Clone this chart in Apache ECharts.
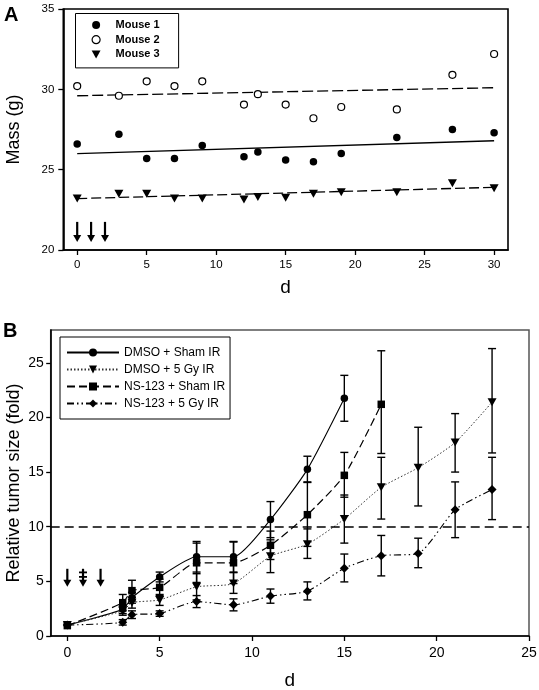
<!DOCTYPE html>
<html>
<head>
<meta charset="utf-8">
<script src="https://cdn.jsdelivr.net/npm/echarts@6/dist/echarts.min.js"></script>
<style>html,body{margin:0;padding:0;background:#fff}#c{width:539px;height:690px}</style>
</head>
<body>
<div id="c"></div>
<script>
// ---------- Panel A data ----------
const daysA = [0, 3, 5, 7, 9, 12, 13, 15, 17, 19, 23, 27, 30];
const mouse1 = [26.6, 27.2, 25.7, 25.7, 26.5, 25.8, 26.1, 25.6, 25.5, 26.0, 27.0, 27.5, 27.3];
const mouse2 = [30.2, 29.6, 30.5, 30.2, 30.5, 29.05, 29.7, 29.05, 28.2, 28.9, 28.75, 30.9, 32.2];
const mouse3 = [23.2, 23.5, 23.5, 23.2, 23.2, 23.15, 23.3, 23.25, 23.5, 23.6, 23.6, 24.15, 23.85];
const fitDaysA = [0, 30];
const fit1 = [26.0, 26.8];
const fit2 = [29.6, 30.1];
const fit3 = [23.2, 23.9];
const arrowDaysA = [0, 1, 2];
const arrowTopA = 21.75;
const arrowBottomA = 20.5;
const ticksAx = [0, 5, 10, 15, 20, 25, 30];
const ticksAy = [20, 25, 30, 35];
const namesA = ['Mouse 1', 'Mouse 2', 'Mouse 3'];

// ---------- Panel B data ----------
const namesB = ['DMSO + Sham IR', 'DMSO + 5 Gy IR', 'NS-123 + Sham IR', 'NS-123 + 5 Gy IR'];
const daysB1 = [0, 3, 3.5, 5, 7, 9, 11, 13, 15];
const dmsoSham = [1.0, 2.45, 3.5, 5.4, 7.25, 7.25, 10.65, 15.25, 21.75];
const dmsoShamLo = [1.0, 2.05, 3.0, 4.95, 5.85, 5.85, 9.0, 14.05, 19.65];
const dmsoShamHi = [1.0, 2.85, 4.0, 5.85, 8.65, 8.65, 12.3, 16.45, 23.85];

const daysB2 = [0, 3, 3.5, 5, 7, 9, 11, 13, 15, 17, 19, 21, 23];
const dmso5Gy = [1.0, 2.3, 3.05, 3.3, 4.5, 4.8, 7.3, 8.4, 10.7, 13.6, 15.4, 17.7, 21.4];
const dmso5GyLo = [1.0, 1.9, 2.55, 2.8, 3.3, 3.9, 5.8, 7.1, 8.5, 10.7, 11.9, 15.0, 16.75];
const dmso5GyHi = [1.0, 2.7, 3.55, 3.8, 5.7, 5.8, 8.8, 9.8, 12.9, 16.35, 19.1, 20.35, 26.3];

const daysB3 = [0, 3, 3.5, 5, 7, 9, 11, 13, 15, 17];
const nsSham = [0.95, 3.05, 4.15, 4.45, 6.7, 6.7, 8.3, 11.1, 14.7, 21.2];
const nsShamLo = [0.95, 2.3, 3.2, 3.7, 4.9, 4.8, 7.0, 8.2, 12.7, 16.7];
const nsShamHi = [0.95, 3.8, 5.1, 5.2, 8.5, 8.6, 9.6, 14.1, 16.8, 26.1];

const daysB4 = [0, 3, 3.5, 5, 7, 9, 11, 13, 15, 17, 19, 21, 23];
const ns5Gy = [1.0, 1.25, 1.95, 2.05, 3.15, 2.85, 3.65, 4.1, 6.2, 7.35, 7.55, 11.55, 13.4];
const ns5GyLo = [1.0, 1.0, 1.6, 1.8, 2.6, 2.3, 3.0, 3.3, 4.95, 5.5, 6.25, 9.0, 10.65];
const ns5GyHi = [1.0, 1.5, 2.3, 2.3, 3.7, 3.4, 4.3, 4.95, 7.5, 9.2, 8.95, 14.1, 16.35];

const thresholdB = 10;
const arrowDaysB = [0, 0.85, 1.8];
const arrowBarsB = [0, 2, 0];
const arrowTopB = 6.15;
const arrowBottomB = 4.5;
const ticksBx = [0, 5, 10, 15, 20, 25];
const ticksBy = [0, 5, 10, 15, 20, 25];

// ---------- helpers ----------
const FONT = 'Liberation Sans, Arial, Helvetica, sans-serif';
const zip = (xs, ys) => xs.map((x, i) => [x, ys[i]]);
const zip3 = (xs, lo, hi) => xs.map((x, i) => [x, lo[i], hi[i]]);

function errRender(params, api) {
  const x = api.value(0), lo = api.value(1), hi = api.value(2);
  if (hi - lo < 0.05) return null;
  const p1 = api.coord([x, lo]);
  const p2 = api.coord([x, hi]);
  const w = 4;
  const st = { stroke: '#000', lineWidth: 1.4 };
  return {
    type: 'group',
    children: [
      { type: 'line', shape: { x1: p1[0], y1: p1[1], x2: p2[0], y2: p2[1] }, style: st },
      { type: 'line', shape: { x1: p1[0] - w, y1: p1[1], x2: p1[0] + w, y2: p1[1] }, style: st },
      { type: 'line', shape: { x1: p2[0] - w, y1: p2[1], x2: p2[0] + w, y2: p2[1] }, style: st }
    ]
  };
}

function arrowRender(params, api) {
  const x = api.value(0), top = api.value(1), bot = api.value(2), bars = api.value(3);
  const pt = api.coord([x, top]);
  const pb = api.coord([x, bot]);
  const hw = 4, hh = 7;
  const children = [
    { type: 'line', shape: { x1: pt[0], y1: pt[1], x2: pb[0], y2: pb[1] - hh + 1 }, style: { stroke: '#000', lineWidth: 2.2 } },
    { type: 'polygon', shape: { points: [[pb[0] - hw, pb[1] - hh], [pb[0] + hw, pb[1] - hh], [pb[0], pb[1]]] }, style: { fill: '#000' } }
  ];
  const len = pb[1] - pt[1];
  for (let b = 0; b < bars; b++) {
    const yy = pt[1] + len * (0.2 + 0.25 * b);
    children.push({ type: 'line', shape: { x1: pt[0] - 4, y1: yy, x2: pt[0] + 4, y2: yy }, style: { stroke: '#000', lineWidth: 1.8 } });
  }
  return { type: 'group', children };
}

const chart = echarts.init(document.getElementById('c'), null, { renderer: 'canvas' });

const axisCommon = {
  type: 'value',
  splitLine: { show: false },
  nameMoveOverlap: false,
  axisLine: { show: true, onZero: false, lineStyle: { color: '#000', width: 1.6 } },
  axisTick: { show: true, inside: false, length: 5, lineStyle: { color: '#000', width: 1.3 } }
};

const option = {
  animation: false,
  backgroundColor: '#fff',
  textStyle: { fontFamily: FONT, color: '#000' },
  graphic: [
    { type: 'text', left: 4, top: 5, style: { text: 'A', font: 'bold 20px ' + FONT, fill: '#000' } },
    { type: 'text', left: 3, top: 321, style: { text: 'B', font: 'bold 20px ' + FONT, fill: '#000' } }
  ],
  grid: [
    { left: 63.3, top: 9, width: 444.7, height: 241, show: true, borderColor: '#000', borderWidth: 1.6, containLabel: false, outerBoundsMode: 'none' },
    { left: 50.7, top: 330, width: 478.3, height: 306, show: true, borderColor: '#555', borderWidth: 1.5, containLabel: false, outerBoundsMode: 'none' }
  ],
  legend: [
    {
      data: [
        { name: namesA[0], icon: 'circle' },
        { name: namesA[1], icon: 'circle' },
        { name: namesA[2], icon: 'path://M0,0 L10,0 L5,9 Z' }
      ],
      left: 75.5, top: 13.5, orient: 'vertical',
      padding: [6, 19, 8, 16], itemGap: 3.7, itemWidth: 9, itemHeight: 8,
      borderColor: '#000', borderWidth: 1, backgroundColor: '#fff',
      textStyle: { fontFamily: FONT, fontSize: 11, fontWeight: 'bold', color: '#000', padding: [0, 0, 0, 10] },
      itemStyle: { borderWidth: 1.2 }
    },
    {
      data: namesB, left: 60, top: 337, orient: 'vertical',
      padding: [9.5, 5, 9.5, 6], itemGap: 5, itemWidth: 52, itemHeight: 10,
      borderColor: '#000', borderWidth: 1, backgroundColor: '#fff',
      textStyle: { fontFamily: FONT, fontSize: 12, color: '#000' }
    }
  ],
  xAxis: [
    Object.assign({}, axisCommon, {
      gridIndex: 0, min: -1, max: 31,
      name: 'd', nameLocation: 'middle', nameGap: 28,
      nameTextStyle: { fontSize: 19, fontFamily: FONT, color: '#000' },
      axisTick: Object.assign({}, axisCommon.axisTick, { customValues: ticksAx }),
      axisLabel: { customValues: ticksAx, fontSize: 11.5, margin: 9, color: '#000', fontFamily: FONT }
    }),
    Object.assign({}, axisCommon, {
      gridIndex: 1, min: -0.9, max: 25,
      name: 'd', nameLocation: 'middle', nameGap: 35,
      nameTextStyle: { fontSize: 19, fontFamily: FONT, color: '#000' },
      axisTick: Object.assign({}, axisCommon.axisTick, { customValues: ticksBx }),
      axisLabel: { customValues: ticksBx, fontSize: 14, margin: 10, color: '#000', fontFamily: FONT }
    })
  ],
  yAxis: [
    Object.assign({}, axisCommon, {
      gridIndex: 0, min: 20, max: 35,
      name: 'Mass (g)', nameLocation: 'middle', nameGap: 40,
      nameTextStyle: { fontSize: 18, fontFamily: FONT, color: '#000' },
      axisTick: Object.assign({}, axisCommon.axisTick, { customValues: ticksAy }),
      axisLabel: { customValues: ticksAy, fontSize: 11.5, margin: 9, color: '#000', fontFamily: FONT }
    }),
    Object.assign({}, axisCommon, {
      gridIndex: 1, min: 0, max: 28,
      name: 'Relative tumor size (fold)', nameLocation: 'middle', nameGap: 28,
      nameTextStyle: { fontSize: 18, fontFamily: FONT, color: '#000' },
      axisTick: Object.assign({}, axisCommon.axisTick, { length: 4.5, customValues: ticksBy }),
      axisLabel: { customValues: ticksBy, fontSize: 14, margin: 7, color: '#000', fontFamily: FONT }
    })
  ],
  series: [
    // ----- Panel A -----
    { name: 'fit1', type: 'line', xAxisIndex: 0, yAxisIndex: 0, data: zip(fitDaysA, fit1), showSymbol: false, symbol: 'none', lineStyle: { color: '#000', width: 1.3, type: 'solid' }, z: 1 },
    { name: 'fit2', type: 'line', xAxisIndex: 0, yAxisIndex: 0, data: zip(fitDaysA, fit2), showSymbol: false, symbol: 'none', lineStyle: { color: '#000', width: 1.3, type: [11, 4] }, z: 1 },
    { name: 'fit3', type: 'line', xAxisIndex: 0, yAxisIndex: 0, data: zip(fitDaysA, fit3), showSymbol: false, symbol: 'none', lineStyle: { color: '#000', width: 1.3, type: [10, 4] }, z: 1 },
    { name: 'Mouse 1', type: 'scatter', xAxisIndex: 0, yAxisIndex: 0, data: zip(daysA, mouse1), symbol: 'circle', symbolSize: 7.5, itemStyle: { color: '#000', opacity: 1 }, z: 3 },
    { name: 'Mouse 2', type: 'scatter', xAxisIndex: 0, yAxisIndex: 0, data: zip(daysA, mouse2), symbol: 'circle', symbolSize: 7, itemStyle: { color: '#fff', borderColor: '#000', borderWidth: 1.2, opacity: 1 }, z: 3 },
    { name: 'Mouse 3', type: 'scatter', xAxisIndex: 0, yAxisIndex: 0, data: zip(daysA, mouse3), symbol: 'triangle', symbolRotate: 180, symbolSize: [9, 8], itemStyle: { color: '#000', opacity: 1 }, z: 3 },
    { name: 'arrowsA', type: 'custom', xAxisIndex: 0, yAxisIndex: 0, renderItem: arrowRender, data: arrowDaysA.map(d => [d, arrowTopA, arrowBottomA, 0]), z: 3 },

    // ----- Panel B error bars -----
    { name: 'errB1', type: 'custom', xAxisIndex: 1, yAxisIndex: 1, renderItem: errRender, data: zip3(daysB1, dmsoShamLo, dmsoShamHi), z: 1 },
    { name: 'errB2', type: 'custom', xAxisIndex: 1, yAxisIndex: 1, renderItem: errRender, data: zip3(daysB2, dmso5GyLo, dmso5GyHi), z: 1 },
    { name: 'errB3', type: 'custom', xAxisIndex: 1, yAxisIndex: 1, renderItem: errRender, data: zip3(daysB3, nsShamLo, nsShamHi), z: 1 },
    { name: 'errB4', type: 'custom', xAxisIndex: 1, yAxisIndex: 1, renderItem: errRender, data: zip3(daysB4, ns5GyLo, ns5GyHi), z: 1 },

    // ----- Panel B lines -----
    { name: namesB[0], type: 'line', xAxisIndex: 1, yAxisIndex: 1, data: zip(daysB1, dmsoSham), smooth: 0.2, symbol: 'circle', symbolSize: 7.5, showSymbol: true,
      itemStyle: { color: '#000' }, lineStyle: { color: '#000', width: 1.1, type: 'solid' }, z: 3,
      markLine: { silent: true, symbol: 'none', label: { show: false }, lineStyle: { color: '#000', width: 1.6, type: [9, 5] }, data: [{ yAxis: thresholdB }] } },
    { name: namesB[1], type: 'line', xAxisIndex: 1, yAxisIndex: 1, data: zip(daysB2, dmso5Gy), smooth: 0.2, symbol: 'triangle', symbolRotate: 180, symbolSize: [9, 8], showSymbol: true,
      itemStyle: { color: '#000' }, lineStyle: { color: '#333', width: 1, type: [1.5, 2] }, z: 3 },
    { name: namesB[2], type: 'line', xAxisIndex: 1, yAxisIndex: 1, data: zip(daysB3, nsSham), smooth: 0.2, symbol: 'rect', symbolSize: 7.5, showSymbol: true,
      itemStyle: { color: '#000' }, lineStyle: { color: '#000', width: 1.2, type: [8, 4] }, z: 3 },
    { name: namesB[3], type: 'line', xAxisIndex: 1, yAxisIndex: 1, data: zip(daysB4, ns5Gy), smooth: 0.2, symbol: 'diamond', symbolSize: [9, 9], showSymbol: true,
      itemStyle: { color: '#000' }, lineStyle: { color: '#000', width: 1.1, type: [7, 3, 1.5, 3, 1.5, 3] }, z: 3 },
    { name: 'arrowsB', type: 'custom', xAxisIndex: 1, yAxisIndex: 1, renderItem: arrowRender, data: arrowDaysB.map((d, i) => [d, arrowTopB, arrowBottomB, arrowBarsB[i]]), z: 3 }
  ]
};
chart.setOption(option);
</script>
</body>
</html>
